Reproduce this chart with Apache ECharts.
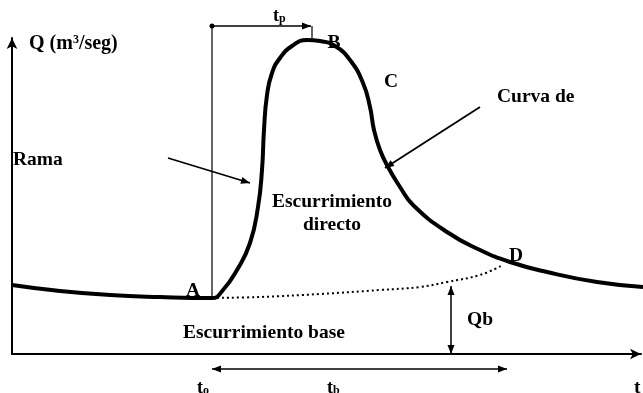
<!doctype html>
<html lang="es">
<head>
<meta charset="UTF-8">
<title>Hidrograma</title>
<script src="https://cdn.jsdelivr.net/npm/echarts@6.0.0/dist/echarts.min.js"></script>
<style>
  html, body { margin: 0; padding: 0; background: #fff; }
  #main { width: 643px; height: 393px; }
</style>
</head>
<body>
<div id="main"></div>
<script>
// hidrograma: tiempo t (h) y caudal Q (m3/seg)
var tCurva = [0, 4.8, 9.8, 14.8, 20, 21.1, 22.5, 23.8, 24.6, 25, 25.2, 25.5, 26, 26.8, 28, 29.5,
              30.8, 32.3, 33.8, 35.1, 35.8, 36.2, 36.8, 37.6, 38.8, 40.1, 43.5, 46.8, 49.8, 53.5, 58.5, 63.1];
var qCurva = [6.9, 6.3, 5.9, 5.7, 5.6, 6.4, 8.4, 11.1, 14.7, 18.4, 22.4, 25.9, 28.1, 29.6, 30.8, 31.4,
              31.3, 30.8, 29.4, 27.1, 24.7, 22.4, 20.4, 18.7, 16.7, 14.9, 12.2, 10.4, 9.2, 8.2, 7.2, 6.7];

// separacion del escurrimiento base (A -> D)
var tBase = [20, 24.8, 30.8, 36.8, 40.8, 43.5, 46.8, 49.1];
var qBase = [5.6, 5.7, 6.0, 6.4, 6.7, 7.2, 7.9, 8.9];

var t0 = 20;       // inicio escurrimiento directo (A)
var tPico = 29.9;  // fin de tp
var tFin = 49.5;   // fin de tb (D)
var tQb = 43.9;    // donde se marca Qb
var qQb = 6.8;
var qCota = 32.8;  // altura de la cota tp
var qCotaTb = -1.5;

var ramaFlecha = [[15.6, 19.6], [23.8, 17.1]];
var curvaFlecha = [[46.8, 24.7], [37.3, 18.6]];

var chart = echarts.init(document.getElementById('main'));
var font = '"Liberation Serif", "Times New Roman", serif';

function zip(a, b) {
    var out = [];
    for (var i = 0; i < a.length; i++) out.push([a[i], b[i]]);
    return out;
}

// cotas y flechas
var notas = [
    { a: [t0, qCota], b: [t0, qBase[0]], ini: 'none', fin: 'none', w: 1.2 },
    { a: [t0, qCota], b: [tPico, qCota], ini: 'dot', fin: 'arrow', w: 1.5 },
    { a: [tPico + 0.1, qCota], b: [tPico + 0.1, 31.6], ini: 'none', fin: 'none', w: 1.2 },
    { a: [t0, qCotaTb], b: [tFin, qCotaTb], ini: 'arrow', fin: 'arrow', w: 1.5 },
    { a: [tQb, 0], b: [tQb, qQb], ini: 'arrow', fin: 'arrow', w: 1.5 },
    { a: ramaFlecha[0], b: ramaFlecha[1], ini: 'none', fin: 'arrow', w: 1.8 },
    { a: curvaFlecha[0], b: curvaFlecha[1], ini: 'none', fin: 'arrow', w: 1.8 }
];

function punta(tip, from) {
    var dx = tip[0] - from[0], dy = tip[1] - from[1];
    var d = Math.sqrt(dx * dx + dy * dy) || 1;
    var ux = dx / d, uy = dy / d;
    var bx = tip[0] - ux * 9, by = tip[1] - uy * 9;
    return {
        type: 'polygon',
        shape: { points: [tip, [bx - uy * 3.5, by + ux * 3.5], [bx + uy * 3.5, by - ux * 3.5]] },
        style: { fill: '#000' }
    };
}

function dibujarNota(params, api) {
    var n = notas[params.dataIndex];
    var p1 = api.coord(n.a), p2 = api.coord(n.b);
    var hijos = [{
        type: 'line',
        shape: { x1: p1[0], y1: p1[1], x2: p2[0], y2: p2[1] },
        style: { stroke: '#000', lineWidth: n.w }
    }];
    if (n.ini === 'arrow') hijos.push(punta(p1, p2));
    if (n.ini === 'dot') hijos.push({ type: 'circle', shape: { cx: p1[0], cy: p1[1], r: 2.5 }, style: { fill: '#000' } });
    if (n.fin === 'arrow') hijos.push(punta(p2, p1));
    return { type: 'group', children: hijos };
}

function texto(txt, x, y, extra) {
    var s = {
        text: txt, x: x, y: y, fill: '#000',
        font: 'bold 19.5px ' + font, textVerticalAlign: 'middle'
    };
    if (extra) for (var k in extra) s[k] = extra[k];
    return { type: 'text', z: 100, style: s };
}

function conSub(base, sub, x, y) {
    return {
        type: 'text', z: 100, x: x, y: y,
        style: {
            text: '{a|' + base + '}{b|' + sub + '}',
            rich: {
                a: { font: 'bold 18px ' + font, fill: '#000' },
                b: { font: 'bold 12px ' + font, fill: '#000', verticalAlign: 'bottom', padding: [6, 0, 0, 0] }
            },
            textVerticalAlign: 'middle'
        }
    };
}

var option = {
    animation: false,
    backgroundColor: '#fff',
    grid: { left: 12, right: 2, top: 38, bottom: 39 },
    xAxis: {
        type: 'value', min: 0, max: 62.9,
        axisLine: { onZero: false, symbol: ['none', 'arrow'], symbolSize: [8, 11], lineStyle: { color: '#000', width: 2 } },
        axisTick: { show: false }, axisLabel: { show: false }, splitLine: { show: false }
    },
    yAxis: {
        type: 'value', min: 0, max: 31.6,
        axisLine: { onZero: false, symbol: ['none', 'arrow'], symbolSize: [8, 11], lineStyle: { color: '#000', width: 2 } },
        axisTick: { show: false }, axisLabel: { show: false }, splitLine: { show: false }
    },
    series: [
        {
            type: 'line', data: zip(tCurva, qCurva), showSymbol: false, clip: false,
            smooth: 0.5,
            lineStyle: { color: '#000', width: 4 }, z: 5
        },
        {
            type: 'line', data: zip(tBase, qBase), showSymbol: false, clip: false, smooth: 0.4,
            lineStyle: { color: '#000', width: 2, type: [2, 3] }, z: 4
        },
        {
            type: 'custom', clip: false, z: 6,
            data: notas.map(function (n) { return [n.a[0], n.a[1], n.b[0], n.b[1]]; }),
            encode: { x: [0, 2], y: [1, 3] },
            renderItem: dibujarNota
        }
    ],
    graphic: [
        {
            type: 'text', z: 100, x: 29, y: 44,
            style: {
                text: '{a|Q (m}{b|3}{a|/seg)}',
                rich: {
                    a: { font: 'bold 20px ' + font, fill: '#000' },
                    b: { font: 'bold 12px ' + font, fill: '#000', padding: [0, 0, 9, 0] }
                },
                textVerticalAlign: 'middle'
            }
        },
        conSub('t', 'p', 273, 16),
        texto('B', 334, 43, { textAlign: 'center' }),
        texto('C', 391, 82, { textAlign: 'center' }),
        texto('Curva de', 497, 97),
        texto('Rama', 13, 160),
        texto('Escurrimiento', 332, 202, { textAlign: 'center' }),
        texto('directo', 332, 225, { textAlign: 'center' }),
        texto('A', 193, 291, { textAlign: 'center' }),
        texto('D', 516, 256, { textAlign: 'center' }),
        texto('Qb', 467, 320),
        texto('Escurrimiento base', 183, 333),
        conSub('t', 'o', 197, 388),
        conSub('t', 'b', 327, 388),
        texto('t', 634, 388)
    ]
};

chart.setOption(option);
</script>
</body>
</html>
